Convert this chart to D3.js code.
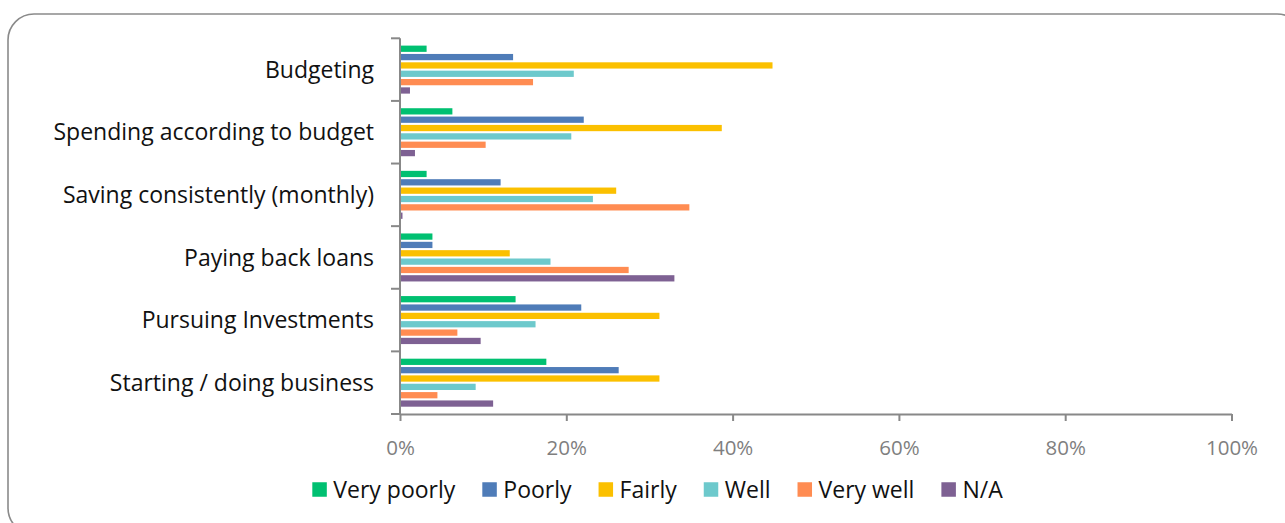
<!DOCTYPE html>
<html>
<head>
<meta charset="utf-8">
<script src="https://cdn.jsdelivr.net/npm/d3@7"></script>
<style>
  html, body { margin: 0; padding: 0; background: #fff; }
  svg { display: block; }
  text { font-family: "Open Sans", "Noto Sans", sans-serif; font-variant-ligatures: none; }
</style>
</head>
<body>
<svg id="chart" width="1285" height="523"></svg>
<script>
// Self-assessed money management skills, share of respondents per rating
const categories = [
  "Budgeting",
  "Spending according to budget",
  "Saving consistently (monthly)",
  "Paying back loans",
  "Pursuing Investments",
  "Starting / doing business"
];
const seriesNames = ["Very poorly", "Poorly", "Fairly", "Well", "Very well", "N/A"];
const veryPoorly = [3.2, 6.3, 3.2, 3.9, 13.9, 17.6];
const poorly     = [13.6, 22.1, 12.1, 3.9, 21.8, 26.3];
const fairly     = [44.8, 38.7, 26.0, 13.2, 31.2, 31.2];
const well       = [20.9, 20.6, 23.2, 18.1, 16.3, 9.1];
const veryWell   = [16.0, 10.3, 34.8, 27.5, 6.9, 4.5];
const notApplic  = [1.2, 1.8, 0.3, 33.0, 9.7, 11.2];
const seriesValues = [veryPoorly, poorly, fairly, well, veryWell, notApplic];
const xTicks = [0, 20, 40, 60, 80, 100];

const colors = ["#00c071", "#4f7cb8", "#fbc000", "#6dc9cc", "#ff8c52", "#7e6193"];

const svg = d3.select("#chart");

// Rounded frame around the chart area
svg.append("rect")
  .attr("x", 8).attr("y", 14)
  .attr("width", 1295).attr("height", 520)
  .attr("rx", 26).attr("ry", 26)
  .attr("fill", "none")
  .attr("stroke", "#8a8a8a")
  .attr("stroke-width", 1.6);

const plot = { left: 400, right: 1231.5, top: 38.3, bottom: 414 };

const x = d3.scaleLinear().domain([0, 100]).range([plot.left, plot.right]);
const y = d3.scaleBand().domain(categories)
  .range([plot.top, plot.bottom])
  .paddingInner(0.2).paddingOuter(0.1);
const ySub = d3.scaleBand().domain(seriesNames)
  .range([0, y.bandwidth()])
  .paddingInner(0.25).paddingOuter(0.125);

const rows = categories.map((c, i) => ({
  cat: c,
  vals: seriesNames.map((s, j) => ({ key: s, value: seriesValues[j][i], color: colors[j] }))
}));

// Bars
const groups = svg.append("g").selectAll("g").data(rows).join("g")
  .attr("transform", d => `translate(0,${y(d.cat)})`);
groups.selectAll("rect").data(d => d.vals).join("rect")
  .attr("x", x(0))
  .attr("y", d => ySub(d.key))
  .attr("width", d => x(d.value) - x(0))
  .attr("height", ySub.bandwidth())
  .attr("fill", d => d.color);

// Value axis
const xAxis = d3.axisBottom(x)
  .tickValues(xTicks)
  .tickSize(7)
  .tickSizeOuter(0)
  .tickPadding(19)
  .tickFormat(d => d + "%");
const gx = svg.append("g")
  .attr("transform", `translate(0,${plot.bottom})`)
  .call(xAxis);
gx.select(".domain").attr("stroke", "#888").attr("stroke-width", 2);
gx.selectAll(".tick line").attr("stroke", "#888").attr("stroke-width", 2);
gx.selectAll(".tick text")
  .attr("fill", "#7f7f7f")
  .style("font-size", "20.5px");

// Category axis: vertical line and boundary ticks between categories
const catAxis = svg.append("g");
catAxis.append("line")
  .attr("x1", x(0)).attr("x2", x(0))
  .attr("y1", plot.top).attr("y2", plot.bottom)
  .attr("stroke", "#888").attr("stroke-width", 2);
const boundaries = d3.range(categories.length + 1).map(i => plot.top + i * y.step());
catAxis.selectAll("line.tick").data(boundaries).join("line")
  .attr("class", "tick")
  .attr("x1", x(0) - 9).attr("x2", x(0))
  .attr("y1", d => d).attr("y2", d => d)
  .attr("stroke", "#888").attr("stroke-width", 2);

// Category labels
catAxis.selectAll("text").data(categories).join("text")
  .attr("x", x(0) - 26)
  .attr("y", d => y(d) + y.bandwidth() / 2)
  .attr("dy", "0.35em")
  .attr("text-anchor", "end")
  .attr("fill", "#111")
  .style("font-size", "23px")
  .text(d => d);

// Legend
const legend = svg.append("g");
const items = legend.selectAll("g").data(seriesNames).join("g");
items.append("rect")
  .attr("width", 14.5).attr("height", 14.5)
  .attr("y", -7.25)
  .attr("fill", (d, i) => colors[i]);
items.append("text")
  .attr("x", 21)
  .attr("dy", "0.35em")
  .attr("fill", "#111")
  .style("font-size", "23px")
  .text(d => d);
let cursor = 0;
const offsets = [];
items.each(function () {
  const w = 21 + d3.select(this).select("text").node().getComputedTextLength();
  offsets.push(cursor);
  cursor += w + 27;
});
const total = cursor - 27;
const legendLeft = 657.5 - total / 2;
items.attr("transform", (d, i) => `translate(${legendLeft + offsets[i]},489.5)`);
</script>
</body>
</html>
